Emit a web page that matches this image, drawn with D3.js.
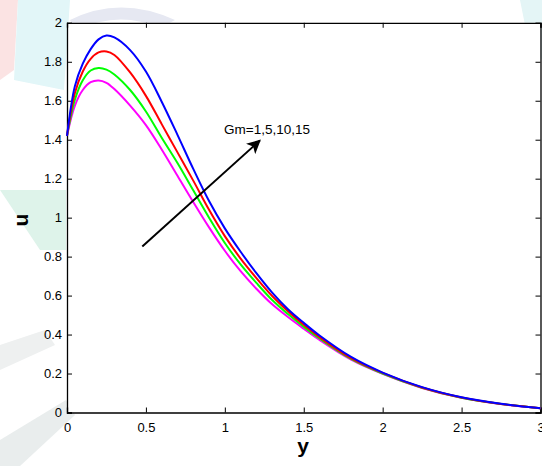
<!DOCTYPE html>
<html>
<head>
<meta charset="utf-8">
<script src="https://cdn.jsdelivr.net/npm/d3@7"></script>
<style>
  body { margin: 0; background: #fff; }
  svg { display: block; font-family: Arial, "Liberation Sans", sans-serif; }
</style>
</head>
<body>
<div class="chart"></div>
<script>
const yVals = [0, 0.05, 0.1, 0.15, 0.2, 0.25, 0.3, 0.4, 0.5, 0.6, 0.7, 0.8, 0.9, 1.0, 1.1, 1.2, 1.3, 1.4, 1.5, 1.6, 1.8, 2.0, 2.25, 2.5, 2.75, 3.0]

// u for Gm = 1, 5, 10, 15
const uGm1  = [1.42, 1.575, 1.655, 1.695, 1.704, 1.692, 1.66, 1.575, 1.475, 1.35, 1.215, 1.08, 0.95, 0.83, 0.725, 0.635, 0.555, 0.49, 0.43, 0.372, 0.271, 0.198, 0.126, 0.075, 0.043, 0.022]
const uGm5  = [1.42, 1.605, 1.705, 1.755, 1.768, 1.76, 1.735, 1.655, 1.545, 1.41, 1.28, 1.14, 1.0, 0.87, 0.76, 0.665, 0.577, 0.505, 0.44, 0.38, 0.275, 0.20, 0.127, 0.076, 0.044, 0.022]
const uGm10 = [1.42, 1.64, 1.75, 1.815, 1.848, 1.853, 1.835, 1.745, 1.625, 1.48, 1.335, 1.19, 1.04, 0.905, 0.79, 0.69, 0.598, 0.52, 0.45, 0.387, 0.279, 0.203, 0.128, 0.077, 0.044, 0.022]
const uGm15 = [1.42, 1.675, 1.79, 1.865, 1.915, 1.935, 1.925, 1.86, 1.75, 1.595, 1.425, 1.25, 1.085, 0.945, 0.825, 0.715, 0.615, 0.53, 0.46, 0.395, 0.285, 0.205, 0.13, 0.078, 0.045, 0.022]

const seriesColors = ['#ff00ff', '#00ff00', '#ff0000', '#0000ff']
const xTicks = [0, 0.5, 1, 1.5, 2, 2.5, 3]
const yTicks = [0, 0.2, 0.4, 0.6, 0.8, 1, 1.2, 1.4, 1.6, 1.8, 2]
const arrowText = 'Gm=1,5,10,15'
// arrow start / end in data units
const arrowFrom = [0.477, 0.852]
const arrowTo = [1.222, 1.396]

let width = 542, height = 466
let margin = {top: 22.8, right: 1.5, bottom: 53.5, left: 67}

let svg = d3.select('div.chart').append('svg')
  .attr('width', width)
  .attr('height', height)

// faint watermark left over from the page behind the figure
let bg = svg.append('g').attr('class', 'watermark')
bg.append('path').attr('d', 'M0,0 L18,0 L14,70 L0,80 Z').attr('fill', '#fbe3e3')
bg.append('path').attr('d', 'M18,0 L70,0 L64,90 L14,80 Z').attr('fill', '#e2f6f8')
bg.append('path').attr('d', 'M70,20 Q120,-5 175,20 L160,28 Q120,10 75,30 Z').attr('fill', '#e6e8f2')
bg.append('path').attr('d', 'M0,190 L66,190 L66,250 L40,250 Z').attr('fill', '#def3ea')
bg.append('path').attr('d', 'M0,345 L45,330 L55,345 L0,370 Z').attr('fill', '#eef0f0')
bg.append('path').attr('d', 'M0,466 L0,440 L66,400 L75,415 L20,466 Z').attr('fill', '#e9eded')
bg.append('path').attr('d', 'M520,0 L542,0 L542,60 L528,40 Z').attr('fill', '#e4f5f6')

let x = d3.scaleLinear().domain([0, 3]).range([margin.left, width - margin.right])
let y = d3.scaleLinear().domain([0, 2]).range([height - margin.bottom, margin.top])

// plot area is white over the watermark
svg.append('rect')
  .attr('x', x(0)).attr('y', y(2))
  .attr('width', x(3) - x(0)).attr('height', y(0) - y(2))
  .attr('fill', '#fff')

// axes box with inward ticks
let fmt = d => d3.format('')(d)
svg.append('g')
  .attr('transform', `translate(0,${y(0)})`)
  .call(d3.axisBottom(x).tickValues(xTicks).tickSize(-5).tickPadding(10).tickFormat(fmt))
svg.append('g')
  .attr('transform', `translate(0,${y(2)})`)
  .call(d3.axisTop(x).tickValues(xTicks).tickSize(-5).tickFormat(''))
svg.append('g')
  .attr('transform', `translate(${x(0)},0)`)
  .call(d3.axisLeft(y).tickValues(yTicks).tickSize(-5).tickPadding(5).tickFormat(fmt))
svg.append('g')
  .attr('transform', `translate(${x(3)},0)`)
  .call(d3.axisRight(y).tickValues(yTicks).tickSize(-5).tickFormat(''))

svg.selectAll('.domain').attr('stroke', '#000').attr('stroke-width', 1.3)
svg.selectAll('.tick line').attr('stroke', '#000')
svg.selectAll('.tick text')
  .attr('font-size', 13)
  .attr('font-family', 'Arial, "Liberation Sans", sans-serif')
  .attr('fill', '#000')

// curves
let line = d3.line()
  .x((d, i) => x(yVals[i]))
  .y(d => y(d))
  .curve(d3.curveCatmullRom.alpha(0.5))

let allSeries = [uGm1, uGm5, uGm10, uGm15]
svg.selectAll('path.curve')
  .data(allSeries)
  .enter()
  .append('path')
  .attr('class', 'curve')
  .attr('d', line)
  .attr('fill', 'none')
  .attr('stroke', (d, i) => seriesColors[i])
  .attr('stroke-width', 2)

// arrow
svg.append('defs').append('marker')
  .attr('id', 'head')
  .attr('viewBox', '0 0 10 10')
  .attr('refX', 9).attr('refY', 5)
  .attr('markerWidth', 7).attr('markerHeight', 7)
  .attr('markerUnits', 'strokeWidth')
  .attr('orient', 'auto')
  .append('path')
  .attr('d', 'M0,0 L10,5 L0,10 L2.5,5 Z')
  .attr('fill', '#000')

svg.append('line')
  .attr('x1', x(arrowFrom[0])).attr('y1', y(arrowFrom[1]))
  .attr('x2', x(arrowTo[0])).attr('y2', y(arrowTo[1]))
  .attr('stroke', '#000')
  .attr('stroke-width', 2)
  .attr('marker-end', 'url(#head)')

svg.append('text')
  .attr('x', 224).attr('y', 134)
  .attr('font-size', 13.5)
  .text(arrowText)

// axis labels
svg.append('text')
  .attr('x', 303).attr('y', 453)
  .attr('text-anchor', 'middle')
  .attr('font-size', 21)
  .attr('font-weight', 'bold')
  .text('y')

svg.append('text')
  .attr('transform', 'translate(28,220) rotate(-90)')
  .attr('text-anchor', 'middle')
  .attr('font-size', 21)
  .attr('font-weight', 'bold')
  .text('u')
</script>
</body>
</html>
